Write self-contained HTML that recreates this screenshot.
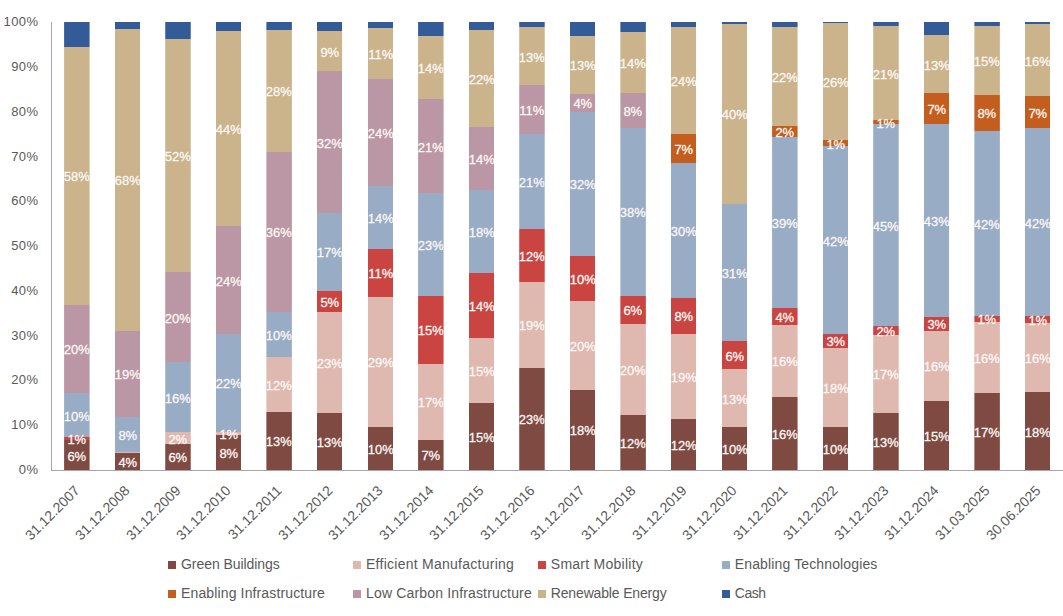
<!DOCTYPE html><html><head><meta charset="utf-8"><style>
html,body{margin:0;padding:0;background:#fff;width:1063px;height:616px;overflow:hidden;position:relative;font-family:"Liberation Sans",sans-serif}
.s{position:absolute;left:0;width:100%}
.bar{position:absolute;clip-path:inset(-30px 0 -30px 0)}
.lb{position:absolute;left:-20px;width:65.5px;text-align:center;color:#fbf7f4;font-size:12px;line-height:14px;height:14px;white-space:nowrap;transform:scaleX(1.08);-webkit-text-stroke:0.28px #fbf7f4}
.yl{position:absolute;right:1024.6px;letter-spacing:0.4px;font-size:13px;color:#595959;line-height:14px;height:14px;white-space:nowrap}
.xl{position:absolute;font-size:14px;color:#595959;line-height:16px;height:16px;white-space:nowrap;transform-origin:100% 50%;transform:rotate(-45deg)}
.lg{position:absolute;font-size:14px;color:#595959;line-height:16px;white-space:nowrap}
.mk{position:absolute;width:8px;height:8px}
</style></head><body>

<div style="position:absolute;left:51px;top:22px;width:1px;height:448px;background:#a6a6a6"></div>
<div style="position:absolute;left:51px;top:469.5px;width:1012px;height:1px;background:#a6a6a6"></div>
<div class="yl" style="top:463.00px">0%</div>
<div class="yl" style="top:418.23px">10%</div>
<div class="yl" style="top:373.46px">20%</div>
<div class="yl" style="top:328.69px">30%</div>
<div class="yl" style="top:283.92px">40%</div>
<div class="yl" style="top:239.15px">50%</div>
<div class="yl" style="top:194.38px">60%</div>
<div class="yl" style="top:149.61px">70%</div>
<div class="yl" style="top:104.84px">80%</div>
<div class="yl" style="top:60.07px">90%</div>
<div class="yl" style="top:15.30px">100%</div>
<div class="bar" style="left:64.10px;top:22.3px;width:25.5px;height:447.70px">
<div class="s" style="top:0.00px;height:24.35px;background:#335b98"></div>
<div class="s" style="top:24.35px;height:258.25px;background:#cbb38b"></div>
<div class="s" style="top:282.60px;height:87.90px;background:#bb96a4"></div>
<div class="s" style="top:370.50px;height:44.60px;background:#99acc5"></div>
<div class="s" style="top:415.10px;height:2.70px;background:#ca4541"></div>
<div class="s" style="top:417.80px;height:29.90px;background:#7f4a42"></div>
<div class="lb" style="top:147.97px">58%</div>
<div class="lb" style="top:321.05px">20%</div>
<div class="lb" style="top:387.30px">10%</div>
<div class="lb" style="top:410.95px">1%</div>
<div class="lb" style="top:427.25px">6%</div>
</div>
<div class="xl" style="right:986.15px;top:479.50px">31.12.2007</div>
<div class="bar" style="left:114.67px;top:22.3px;width:25.5px;height:447.70px">
<div class="s" style="top:0.00px;height:6.60px;background:#335b98"></div>
<div class="s" style="top:6.60px;height:302.00px;background:#cbb38b"></div>
<div class="s" style="top:308.60px;height:86.20px;background:#bb96a4"></div>
<div class="s" style="top:394.80px;height:34.80px;background:#99acc5"></div>
<div class="s" style="top:429.60px;height:0.70px;background:#dfb9b0"></div>
<div class="s" style="top:430.30px;height:17.40px;background:#7f4a42"></div>
<div class="lb" style="top:152.10px">68%</div>
<div class="lb" style="top:346.20px">19%</div>
<div class="lb" style="top:406.70px">8%</div>
<div class="lb" style="top:433.50px">4%</div>
</div>
<div class="xl" style="right:935.58px;top:479.50px">31.12.2008</div>
<div class="bar" style="left:165.24px;top:22.3px;width:25.5px;height:447.70px">
<div class="s" style="top:0.00px;height:17.00px;background:#335b98"></div>
<div class="s" style="top:17.00px;height:233.20px;background:#cbb38b"></div>
<div class="s" style="top:250.20px;height:89.40px;background:#bb96a4"></div>
<div class="s" style="top:339.60px;height:70.60px;background:#99acc5"></div>
<div class="s" style="top:410.20px;height:11.40px;background:#dfb9b0"></div>
<div class="s" style="top:421.60px;height:26.10px;background:#7f4a42"></div>
<div class="lb" style="top:128.10px">52%</div>
<div class="lb" style="top:289.40px">20%</div>
<div class="lb" style="top:369.40px">16%</div>
<div class="lb" style="top:410.40px">2%</div>
<div class="lb" style="top:429.15px">6%</div>
</div>
<div class="xl" style="right:885.01px;top:479.50px">31.12.2009</div>
<div class="bar" style="left:215.81px;top:22.3px;width:25.5px;height:447.70px">
<div class="s" style="top:0.00px;height:8.80px;background:#335b98"></div>
<div class="s" style="top:8.80px;height:195.40px;background:#cbb38b"></div>
<div class="s" style="top:204.20px;height:107.80px;background:#bb96a4"></div>
<div class="s" style="top:312.00px;height:97.40px;background:#99acc5"></div>
<div class="s" style="top:409.40px;height:3.00px;background:#dfb9b0"></div>
<div class="s" style="top:412.40px;height:35.30px;background:#7f4a42"></div>
<div class="lb" style="top:101.00px">44%</div>
<div class="lb" style="top:252.60px">24%</div>
<div class="lb" style="top:355.20px">22%</div>
<div class="lb" style="top:405.40px">1%</div>
<div class="lb" style="top:424.55px">8%</div>
</div>
<div class="xl" style="right:834.44px;top:479.50px">31.12.2010</div>
<div class="bar" style="left:266.38px;top:22.3px;width:25.5px;height:447.70px">
<div class="s" style="top:0.00px;height:7.30px;background:#335b98"></div>
<div class="s" style="top:7.30px;height:122.20px;background:#cbb38b"></div>
<div class="s" style="top:129.50px;height:160.10px;background:#bb96a4"></div>
<div class="s" style="top:289.60px;height:45.60px;background:#99acc5"></div>
<div class="s" style="top:335.20px;height:54.30px;background:#dfb9b0"></div>
<div class="s" style="top:389.50px;height:58.20px;background:#7f4a42"></div>
<div class="lb" style="top:62.90px">28%</div>
<div class="lb" style="top:204.05px">36%</div>
<div class="lb" style="top:306.90px">10%</div>
<div class="lb" style="top:356.85px">12%</div>
<div class="lb" style="top:413.10px">13%</div>
</div>
<div class="xl" style="right:783.87px;top:479.50px">31.12.2011</div>
<div class="bar" style="left:316.95px;top:22.3px;width:25.5px;height:447.70px">
<div class="s" style="top:0.00px;height:8.80px;background:#335b98"></div>
<div class="s" style="top:8.80px;height:40.40px;background:#cbb38b"></div>
<div class="s" style="top:49.20px;height:141.60px;background:#bb96a4"></div>
<div class="s" style="top:190.80px;height:77.70px;background:#99acc5"></div>
<div class="s" style="top:268.50px;height:21.10px;background:#ca4541"></div>
<div class="s" style="top:289.60px;height:101.10px;background:#dfb9b0"></div>
<div class="s" style="top:390.70px;height:57.00px;background:#7f4a42"></div>
<div class="lb" style="top:23.50px">9%</div>
<div class="lb" style="top:114.50px">32%</div>
<div class="lb" style="top:224.15px">17%</div>
<div class="lb" style="top:273.55px">5%</div>
<div class="lb" style="top:334.65px">23%</div>
<div class="lb" style="top:413.70px">13%</div>
</div>
<div class="xl" style="right:733.30px;top:479.50px">31.12.2012</div>
<div class="bar" style="left:367.52px;top:22.3px;width:25.5px;height:447.70px">
<div class="s" style="top:0.00px;height:5.60px;background:#335b98"></div>
<div class="s" style="top:5.60px;height:50.90px;background:#cbb38b"></div>
<div class="s" style="top:56.50px;height:106.80px;background:#bb96a4"></div>
<div class="s" style="top:163.30px;height:63.50px;background:#99acc5"></div>
<div class="s" style="top:226.80px;height:47.70px;background:#ca4541"></div>
<div class="s" style="top:274.50px;height:130.10px;background:#dfb9b0"></div>
<div class="s" style="top:404.60px;height:43.10px;background:#7f4a42"></div>
<div class="lb" style="top:25.55px">11%</div>
<div class="lb" style="top:104.40px">24%</div>
<div class="lb" style="top:189.55px">14%</div>
<div class="lb" style="top:245.15px">11%</div>
<div class="lb" style="top:334.05px">29%</div>
<div class="lb" style="top:420.65px">10%</div>
</div>
<div class="xl" style="right:682.73px;top:479.50px">31.12.2013</div>
<div class="bar" style="left:418.09px;top:22.3px;width:25.5px;height:447.70px">
<div class="s" style="top:0.00px;height:13.60px;background:#335b98"></div>
<div class="s" style="top:13.60px;height:63.10px;background:#cbb38b"></div>
<div class="s" style="top:76.70px;height:94.40px;background:#bb96a4"></div>
<div class="s" style="top:171.10px;height:102.20px;background:#99acc5"></div>
<div class="s" style="top:273.30px;height:68.40px;background:#ca4541"></div>
<div class="s" style="top:341.70px;height:75.80px;background:#dfb9b0"></div>
<div class="s" style="top:417.50px;height:30.20px;background:#7f4a42"></div>
<div class="lb" style="top:39.65px">14%</div>
<div class="lb" style="top:118.40px">21%</div>
<div class="lb" style="top:216.70px">23%</div>
<div class="lb" style="top:302.00px">15%</div>
<div class="lb" style="top:374.10px">17%</div>
<div class="lb" style="top:427.10px">7%</div>
</div>
<div class="xl" style="right:632.16px;top:479.50px">31.12.2014</div>
<div class="bar" style="left:468.66px;top:22.3px;width:25.5px;height:447.70px">
<div class="s" style="top:0.00px;height:7.30px;background:#335b98"></div>
<div class="s" style="top:7.30px;height:97.90px;background:#cbb38b"></div>
<div class="s" style="top:105.20px;height:62.40px;background:#bb96a4"></div>
<div class="s" style="top:167.60px;height:83.30px;background:#99acc5"></div>
<div class="s" style="top:250.90px;height:65.30px;background:#ca4541"></div>
<div class="s" style="top:316.20px;height:64.80px;background:#dfb9b0"></div>
<div class="s" style="top:381.00px;height:66.70px;background:#7f4a42"></div>
<div class="lb" style="top:50.75px">22%</div>
<div class="lb" style="top:130.90px">14%</div>
<div class="lb" style="top:203.75px">18%</div>
<div class="lb" style="top:278.05px">14%</div>
<div class="lb" style="top:343.10px">15%</div>
<div class="lb" style="top:408.85px">15%</div>
</div>
<div class="xl" style="right:581.59px;top:479.50px">31.12.2015</div>
<div class="bar" style="left:519.23px;top:22.3px;width:25.5px;height:447.70px">
<div class="s" style="top:0.00px;height:4.90px;background:#335b98"></div>
<div class="s" style="top:4.90px;height:57.70px;background:#cbb38b"></div>
<div class="s" style="top:62.60px;height:49.40px;background:#bb96a4"></div>
<div class="s" style="top:112.00px;height:94.40px;background:#99acc5"></div>
<div class="s" style="top:206.40px;height:53.50px;background:#ca4541"></div>
<div class="s" style="top:259.90px;height:85.50px;background:#dfb9b0"></div>
<div class="s" style="top:345.40px;height:102.30px;background:#7f4a42"></div>
<div class="lb" style="top:28.25px">13%</div>
<div class="lb" style="top:81.80px">11%</div>
<div class="lb" style="top:153.70px">21%</div>
<div class="lb" style="top:227.65px">12%</div>
<div class="lb" style="top:297.15px">19%</div>
<div class="lb" style="top:391.05px">23%</div>
</div>
<div class="xl" style="right:531.02px;top:479.50px">31.12.2016</div>
<div class="bar" style="left:569.80px;top:22.3px;width:25.5px;height:447.70px">
<div class="s" style="top:0.00px;height:13.60px;background:#335b98"></div>
<div class="s" style="top:13.60px;height:58.20px;background:#cbb38b"></div>
<div class="s" style="top:71.80px;height:17.60px;background:#bb96a4"></div>
<div class="s" style="top:89.40px;height:144.00px;background:#99acc5"></div>
<div class="s" style="top:233.40px;height:45.00px;background:#ca4541"></div>
<div class="s" style="top:278.40px;height:88.90px;background:#dfb9b0"></div>
<div class="s" style="top:367.30px;height:80.40px;background:#7f4a42"></div>
<div class="lb" style="top:37.20px">13%</div>
<div class="lb" style="top:75.10px">4%</div>
<div class="lb" style="top:155.90px">32%</div>
<div class="lb" style="top:250.40px">10%</div>
<div class="lb" style="top:317.35px">20%</div>
<div class="lb" style="top:402.00px">18%</div>
</div>
<div class="xl" style="right:480.45px;top:479.50px">31.12.2017</div>
<div class="bar" style="left:620.37px;top:22.3px;width:25.5px;height:447.70px">
<div class="s" style="top:0.00px;height:9.70px;background:#335b98"></div>
<div class="s" style="top:9.70px;height:60.90px;background:#cbb38b"></div>
<div class="s" style="top:70.60px;height:34.80px;background:#bb96a4"></div>
<div class="s" style="top:105.40px;height:167.90px;background:#99acc5"></div>
<div class="s" style="top:273.30px;height:28.30px;background:#ca4541"></div>
<div class="s" style="top:301.60px;height:91.50px;background:#dfb9b0"></div>
<div class="s" style="top:393.10px;height:54.60px;background:#7f4a42"></div>
<div class="lb" style="top:34.65px">14%</div>
<div class="lb" style="top:82.50px">8%</div>
<div class="lb" style="top:183.85px">38%</div>
<div class="lb" style="top:281.95px">6%</div>
<div class="lb" style="top:341.85px">20%</div>
<div class="lb" style="top:414.90px">12%</div>
</div>
<div class="xl" style="right:429.88px;top:479.50px">31.12.2018</div>
<div class="bar" style="left:670.94px;top:22.3px;width:25.5px;height:447.70px">
<div class="s" style="top:0.00px;height:4.90px;background:#335b98"></div>
<div class="s" style="top:4.90px;height:106.60px;background:#cbb38b"></div>
<div class="s" style="top:111.50px;height:29.60px;background:#c35e1e"></div>
<div class="s" style="top:141.10px;height:134.20px;background:#99acc5"></div>
<div class="s" style="top:275.30px;height:36.00px;background:#ca4541"></div>
<div class="s" style="top:311.30px;height:85.00px;background:#dfb9b0"></div>
<div class="s" style="top:396.30px;height:51.40px;background:#7f4a42"></div>
<div class="lb" style="top:52.70px">24%</div>
<div class="lb" style="top:120.80px">7%</div>
<div class="lb" style="top:202.70px">30%</div>
<div class="lb" style="top:287.80px">8%</div>
<div class="lb" style="top:348.30px">19%</div>
<div class="lb" style="top:416.50px">12%</div>
</div>
<div class="xl" style="right:379.31px;top:479.50px">31.12.2019</div>
<div class="bar" style="left:721.51px;top:22.3px;width:25.5px;height:447.70px">
<div class="s" style="top:0.00px;height:1.70px;background:#335b98"></div>
<div class="s" style="top:1.70px;height:179.80px;background:#cbb38b"></div>
<div class="s" style="top:181.50px;height:137.10px;background:#99acc5"></div>
<div class="s" style="top:318.60px;height:28.30px;background:#ca4541"></div>
<div class="s" style="top:346.90px;height:57.70px;background:#dfb9b0"></div>
<div class="s" style="top:404.60px;height:43.10px;background:#7f4a42"></div>
<div class="lb" style="top:86.10px">40%</div>
<div class="lb" style="top:244.55px">31%</div>
<div class="lb" style="top:327.25px">6%</div>
<div class="lb" style="top:370.25px">13%</div>
<div class="lb" style="top:420.65px">10%</div>
</div>
<div class="xl" style="right:328.74px;top:479.50px">31.12.2020</div>
<div class="bar" style="left:772.08px;top:22.3px;width:25.5px;height:447.70px">
<div class="s" style="top:0.00px;height:4.90px;background:#335b98"></div>
<div class="s" style="top:4.90px;height:98.60px;background:#cbb38b"></div>
<div class="s" style="top:103.50px;height:10.90px;background:#c35e1e"></div>
<div class="s" style="top:114.40px;height:171.30px;background:#99acc5"></div>
<div class="s" style="top:285.70px;height:16.60px;background:#ca4541"></div>
<div class="s" style="top:302.30px;height:72.30px;background:#dfb9b0"></div>
<div class="s" style="top:374.60px;height:73.10px;background:#7f4a42"></div>
<div class="lb" style="top:48.70px">22%</div>
<div class="lb" style="top:103.45px">2%</div>
<div class="lb" style="top:194.55px">39%</div>
<div class="lb" style="top:288.50px">4%</div>
<div class="lb" style="top:332.95px">16%</div>
<div class="lb" style="top:405.65px">16%</div>
</div>
<div class="xl" style="right:278.17px;top:479.50px">31.12.2021</div>
<div class="bar" style="left:822.65px;top:22.3px;width:25.5px;height:447.70px">
<div class="s" style="top:0.00px;height:1.20px;background:#335b98"></div>
<div class="s" style="top:1.20px;height:116.90px;background:#cbb38b"></div>
<div class="s" style="top:118.10px;height:6.10px;background:#c35e1e"></div>
<div class="s" style="top:124.20px;height:187.10px;background:#99acc5"></div>
<div class="s" style="top:311.30px;height:14.60px;background:#ca4541"></div>
<div class="s" style="top:325.90px;height:78.70px;background:#dfb9b0"></div>
<div class="s" style="top:404.60px;height:43.10px;background:#7f4a42"></div>
<div class="lb" style="top:54.15px">26%</div>
<div class="lb" style="top:115.65px">1%</div>
<div class="lb" style="top:212.25px">42%</div>
<div class="lb" style="top:313.10px">3%</div>
<div class="lb" style="top:359.75px">18%</div>
<div class="lb" style="top:420.65px">10%</div>
</div>
<div class="xl" style="right:227.60px;top:479.50px">31.12.2022</div>
<div class="bar" style="left:873.22px;top:22.3px;width:25.5px;height:447.70px">
<div class="s" style="top:0.00px;height:3.90px;background:#335b98"></div>
<div class="s" style="top:3.90px;height:94.20px;background:#cbb38b"></div>
<div class="s" style="top:98.10px;height:3.70px;background:#c35e1e"></div>
<div class="s" style="top:101.80px;height:202.20px;background:#99acc5"></div>
<div class="s" style="top:304.00px;height:8.50px;background:#ca4541"></div>
<div class="s" style="top:312.50px;height:78.20px;background:#dfb9b0"></div>
<div class="s" style="top:390.70px;height:57.00px;background:#7f4a42"></div>
<div class="lb" style="top:45.50px">21%</div>
<div class="lb" style="top:94.45px">1%</div>
<div class="lb" style="top:197.40px">45%</div>
<div class="lb" style="top:302.75px">2%</div>
<div class="lb" style="top:346.10px">17%</div>
<div class="lb" style="top:413.70px">13%</div>
</div>
<div class="xl" style="right:177.03px;top:479.50px">31.12.2023</div>
<div class="bar" style="left:923.79px;top:22.3px;width:25.5px;height:447.70px">
<div class="s" style="top:0.00px;height:12.90px;background:#335b98"></div>
<div class="s" style="top:12.90px;height:57.70px;background:#cbb38b"></div>
<div class="s" style="top:70.60px;height:31.20px;background:#c35e1e"></div>
<div class="s" style="top:101.80px;height:193.20px;background:#99acc5"></div>
<div class="s" style="top:295.00px;height:13.40px;background:#ca4541"></div>
<div class="s" style="top:308.40px;height:70.10px;background:#dfb9b0"></div>
<div class="s" style="top:378.50px;height:69.20px;background:#7f4a42"></div>
<div class="lb" style="top:36.25px">13%</div>
<div class="lb" style="top:80.70px">7%</div>
<div class="lb" style="top:192.90px">43%</div>
<div class="lb" style="top:296.20px">3%</div>
<div class="lb" style="top:337.95px">16%</div>
<div class="lb" style="top:407.60px">15%</div>
</div>
<div class="xl" style="right:126.46px;top:479.50px">31.12.2024</div>
<div class="bar" style="left:974.36px;top:22.3px;width:25.5px;height:447.70px">
<div class="s" style="top:0.00px;height:3.40px;background:#335b98"></div>
<div class="s" style="top:3.40px;height:68.90px;background:#cbb38b"></div>
<div class="s" style="top:72.30px;height:36.10px;background:#c35e1e"></div>
<div class="s" style="top:108.40px;height:184.90px;background:#99acc5"></div>
<div class="s" style="top:293.30px;height:6.60px;background:#ca4541"></div>
<div class="s" style="top:299.90px;height:70.60px;background:#dfb9b0"></div>
<div class="s" style="top:370.50px;height:77.20px;background:#7f4a42"></div>
<div class="lb" style="top:32.35px">15%</div>
<div class="lb" style="top:84.85px">8%</div>
<div class="lb" style="top:195.35px">42%</div>
<div class="lb" style="top:291.10px">1%</div>
<div class="lb" style="top:329.70px">16%</div>
<div class="lb" style="top:403.60px">17%</div>
</div>
<div class="xl" style="right:75.89px;top:479.50px">31.03.2025</div>
<div class="bar" style="left:1024.93px;top:22.3px;width:25.5px;height:447.70px">
<div class="s" style="top:0.00px;height:1.70px;background:#335b98"></div>
<div class="s" style="top:1.70px;height:72.10px;background:#cbb38b"></div>
<div class="s" style="top:73.80px;height:32.10px;background:#c35e1e"></div>
<div class="s" style="top:105.90px;height:187.90px;background:#99acc5"></div>
<div class="s" style="top:293.80px;height:6.60px;background:#ca4541"></div>
<div class="s" style="top:300.40px;height:69.40px;background:#dfb9b0"></div>
<div class="s" style="top:369.80px;height:77.90px;background:#7f4a42"></div>
<div class="lb" style="top:32.25px">16%</div>
<div class="lb" style="top:84.35px">7%</div>
<div class="lb" style="top:194.35px">42%</div>
<div class="lb" style="top:291.60px">1%</div>
<div class="lb" style="top:329.60px">16%</div>
<div class="lb" style="top:403.25px">18%</div>
</div>
<div class="xl" style="right:25.32px;top:479.50px">30.06.2025</div>
<div class="mk" style="left:168.2px;top:561.2px;background:#7f4a42"></div>
<div class="lg" style="left:181.0px;top:556.2px;letter-spacing:-0.06px">Green Buildings</div>
<div class="mk" style="left:353.2px;top:561.2px;background:#dfb9b0"></div>
<div class="lg" style="left:366.0px;top:556.2px;letter-spacing:0.26px">Efficient Manufacturing</div>
<div class="mk" style="left:538.0px;top:561.2px;background:#ca4541"></div>
<div class="lg" style="left:550.8px;top:556.2px;letter-spacing:0.26px">Smart Mobility</div>
<div class="mk" style="left:722.0px;top:561.2px;background:#99acc5"></div>
<div class="lg" style="left:734.8px;top:556.2px;letter-spacing:0.135px">Enabling Technologies</div>
<div class="mk" style="left:168.2px;top:589.5px;background:#c35e1e"></div>
<div class="lg" style="left:181.0px;top:584.5px;letter-spacing:0.136px">Enabling Infrastructure</div>
<div class="mk" style="left:353.2px;top:589.5px;background:#bb96a4"></div>
<div class="lg" style="left:366.0px;top:584.5px;letter-spacing:0.16px">Low Carbon Infrastructure</div>
<div class="mk" style="left:538.0px;top:589.5px;background:#cbb38b"></div>
<div class="lg" style="left:550.8px;top:584.5px;letter-spacing:-0.16px">Renewable Energy</div>
<div class="mk" style="left:722.0px;top:589.5px;background:#335b98"></div>
<div class="lg" style="left:734.8px;top:584.5px;letter-spacing:-0.45px">Cash</div>
</body></html>
